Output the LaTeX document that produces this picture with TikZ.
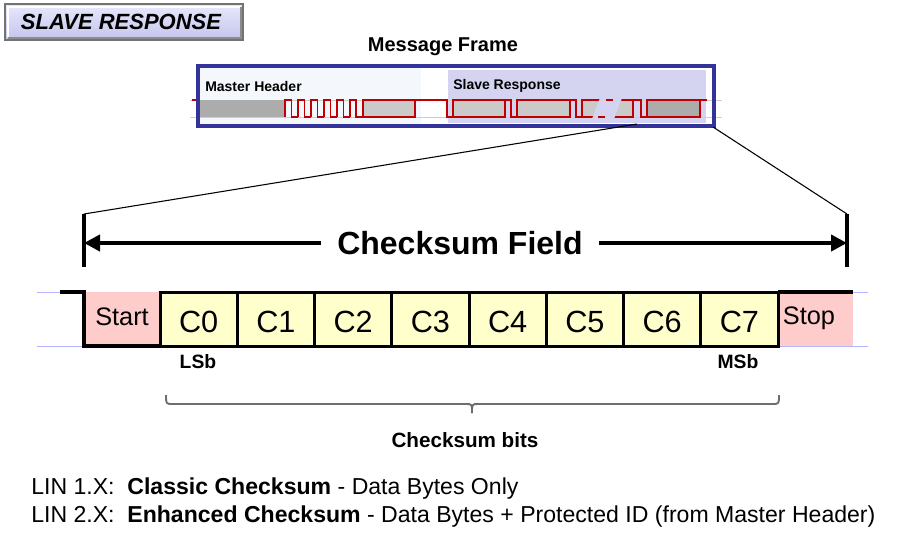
\documentclass[tikz,border=0pt]{standalone}
\usepackage{fontspec}
\setmainfont{Liberation Sans}
\usepackage{xcolor}
\usetikzlibrary{arrows.meta}

\definecolor{wavered}{RGB}{192,0,0}
\definecolor{frameblue}{RGB}{51,51,153}
\definecolor{slavebg}{RGB}{212,212,240}
\definecolor{masterbg}{RGB}{244,247,251}
\definecolor{bytegray}{RGB}{202,202,202}
\definecolor{breakgray}{RGB}{172,172,172}
\definecolor{cellyellow}{RGB}{255,255,204}
\definecolor{cellpink}{RGB}{255,204,204}
\definecolor{guideblue}{RGB}{180,180,255}
\definecolor{guidegray}{RGB}{205,205,205}
\definecolor{bracegray}{RGB}{110,110,110}
\definecolor{titletop}{RGB}{232,232,252}
\definecolor{titlebot}{RGB}{196,196,236}

\tikzset{
  lbl/.style={inner sep=0.75pt},
  wire/.style={draw=wavered, line width=0.9pt},
  bytebox/.style={wire, fill=bytegray},
  bitline/.style={draw=black, line width=3pt},
  cellbox/.style={draw=black, line width=2.25pt, fill=cellyellow},
  dimbar/.style={draw=black, line width=2.4pt},
  dimarrow/.style={draw=black, line width=3pt, -{Triangle[length=12pt,width=12pt]}},
  zoomline/.style={draw=black, line width=0.8pt}
}

\begin{document}
\begin{tikzpicture}[x=0.75pt,y=0.75pt,yscale=-1,xscale=1]
\fill[white] (0,0) rectangle (900,540);
\useasboundingbox (0,0) rectangle (900,540);

%Title button
\shade[top color=titletop, bottom color=titlebot] (5,4) rectangle (243,40);
\draw[white, line width=1pt] (8,37) -- (8,7) -- (240,7);
\draw[black!45, line width=1.5pt] (8,37.5) -- (240.5,37.5) -- (240.5,7);
\draw[black!55, line width=0.8pt] (5,4) rectangle (243,40);
\node[lbl, font=\fontsize{16.5}{20}\selectfont\itshape\bfseries] (title) at (121,22) {SLAVE RESPONSE};

% Text Node
\node[lbl, font=\fontsize{15}{18}\selectfont\bfseries] (msgframe) at (443,47) {Message Frame};

%Message frame backgrounds
\fill[masterbg] (199,67) rectangle (421,125);
\fill[slavebg] (448,70) rectangle (706,123);
\draw[guidegray, line width=0.6pt] (190,100) -- (722,100);
\draw[guidegray, line width=0.6pt] (190,117) -- (722,117);

\node[lbl, anchor=west, font=\fontsize{10.5}{12}\selectfont\bfseries] (masterlbl) at (204,86) {Master Header};
\node[lbl, anchor=west, font=\fontsize{10.5}{12}\selectfont\bfseries] (slavelbl) at (452,86) {Slave Response};

%Master header waveform
\fill[breakgray] (199,100) rectangle (285,117);
\draw[wire] (192,100) -- (199,100);
\foreach \i in {0,...,4}
  \draw[wire] (285+13*\i,117) -- ++(0,-17) -- ++(6.5,0) -- ++(0,17) -- ++(6.5,0);
\draw[wire] (350,117) -- (350,100) -- (356,100) -- (356,117) -- (363,117);
\draw[bytebox] (363,100) rectangle (415,117);

%Slave response waveform
\foreach \xe/\xs in {415/453, 505/517, 570/582, 633/647}
  \draw[wire] (\xe,100) -- (\xs-6,100) -- (\xs-6,117) -- (\xs,117);
\foreach \xa/\xb in {453/505, 517/570, 582/633}
  \draw[bytebox] (\xa,100) rectangle (\xb,117);
\draw[wire, fill=breakgray] (647,100) rectangle (700,117);
\draw[wire] (700,100) -- (707,100);
%break in the third byte
\fill[slavebg] (600,98) -- (622,98) -- (614,119) -- (592,119) -- cycle;
\draw[wire] (606,100) -- (613,100);
\draw[wire] (598,117) -- (605,117);

%Frame outline
\draw[frameblue, line width=2.4pt] (198,66) rectangle (714,126);

%Zoom lines and dimension bars
\coordinate (zoomL) at (637,124);
\coordinate (zoomR) at (713,127);
\coordinate (barLtop) at (84,214);
\coordinate (barLbot) at (84,267);
\coordinate (barRtop) at (847,214);
\coordinate (barRbot) at (847,267);
\coordinate (barLmid) at (84,243);
\coordinate (barRmid) at (847,243);
\draw[zoomline] (zoomL) -- (barLtop);
\draw[zoomline] (zoomR) -- (barRtop);
\draw[dimbar] (barLtop) -- (barLbot);
\draw[dimbar] (barRtop) -- (barRbot);

\node[inner xsep=12pt, inner ysep=2pt, font=\fontsize{24}{28}\selectfont\bfseries] (field) at (460,243) {Checksum Field};
\draw[dimarrow] (field.west) -- (barLmid);
\draw[dimarrow] (field.east) -- (barRmid);

%Bit cells
\draw[guideblue, line width=0.6pt] (37,292) -- (868,292);
\draw[guideblue, line width=0.6pt] (37,346) -- (868,346);
\fill[cellpink] (84,292) rectangle (160,346);
\fill[cellpink] (778,292) rectangle (853,346);
\draw[bitline] (60,292) -- (84,292) -- (84,346) -- (160,346);
\draw[bitline] (778,292) -- (853,292);
\foreach \i in {0,...,7} {
  \draw[cellbox] (160+77.25*\i,292) rectangle (237.25+77.25*\i,346);
  \node[lbl, font=\fontsize{23}{27}\selectfont] (c\i) at (198.6+77.25*\i,322) {C\i};
}
\node[lbl, font=\fontsize{19}{22}\selectfont] (start) at (122,317) {Start};
\node[lbl, font=\fontsize{19}{22}\selectfont] (stop) at (809,318) {Stop};

\node[lbl, font=\fontsize{14.5}{17}\selectfont\bfseries] (lsb) at (198,362) {LSb};
\node[lbl, font=\fontsize{14.5}{17}\selectfont\bfseries] (msb) at (738,362) {MSb};

%Brace
\draw[bracegray, line width=1.4pt] (166,395) .. controls (166,404) .. (173,404) -- (466,404) .. controls (472,404) .. (472,413);
\draw[bracegray, line width=1.4pt] (779,395) .. controls (779,404) .. (772,404) -- (478,404) .. controls (472,404) .. (472,413);
\node[lbl, font=\fontsize{15.5}{18}\selectfont\bfseries] (bits) at (465,440) {Checksum bits};

% Text Node
\node[lbl, anchor=base west, font=\fontsize{17.3}{20}\selectfont] (lin1) at (30,494) {LIN 1.X:\ \ \textbf{Classic Checksum} - Data Bytes Only};
\node[lbl, anchor=base west, font=\fontsize{17.3}{20}\selectfont] (lin2) at (30,522) {LIN 2.X:\ \ \textbf{Enhanced Checksum} - Data Bytes + Protected ID (from Master Header)};

\end{tikzpicture}
\end{document}
